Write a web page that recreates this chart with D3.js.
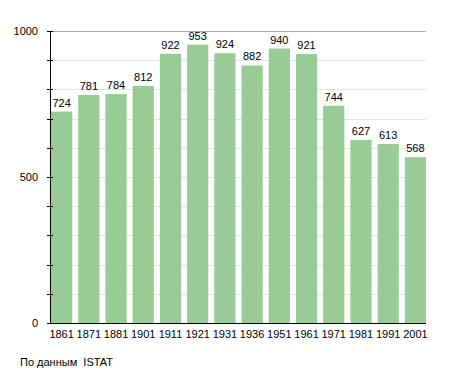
<!DOCTYPE html>
<html>
<head>
<meta charset="utf-8">
<script src="https://cdn.jsdelivr.net/npm/d3@7"></script>
<style>
  body { margin: 0; background: #fff; }
  svg { display: block; }
</style>
</head>
<body>
<div id="chart"></div>
<script>
// data
const years = ["1861", "1871", "1881", "1901", "1911", "1921", "1931", "1936", "1951", "1961", "1971", "1981", "1991", "2001"];
const population = [724, 781, 784, 812, 922, 953, 924, 882, 940, 921, 744, 627, 613, 568];
const yLabels = [0, 500, 1000];
const sourceText = "По данным  ISTAT";

const W = 455, H = 373;
const margin = { top: 31, right: 29, bottom: 50, left: 50 };
const width = W - margin.left - margin.right;
const height = H - margin.top - margin.bottom;
const font = "'Liberation Sans', Arial, sans-serif";

const svg = d3.select("#chart").append("svg")
    .attr("width", W)
    .attr("height", H);

const g = svg.append("g")
    .attr("transform", `translate(${margin.left}, ${margin.top})`);

const x = d3.scaleBand()
    .domain(years)
    .range([1, width])
    .paddingInner(0.22)
    .paddingOuter(0);

const y = d3.scaleLinear()
    .domain([0, 1000])
    .range([height, 0]);

// gridlines every 100
const gridVals = d3.range(100, 1001, 100);
g.selectAll(".grid")
    .data(gridVals)
    .enter()
    .append("line")
    .attr("x1", 0)
    .attr("x2", width)
    .attr("y1", d => Math.round(y(d)) + 0.5)
    .attr("y2", d => Math.round(y(d)) + 0.5)
    .attr("stroke", d => d === 1000 ? "#aaa" : "#e4e4e4")
    .attr("stroke-width", 1);

// bars
g.selectAll(".bar")
    .data(population)
    .enter()
    .append("rect")
    .attr("x", (d, i) => x(years[i]))
    .attr("width", x.bandwidth())
    .attr("y", d => y(d))
    .attr("height", d => height - y(d))
    .attr("fill", "#99cc95");

// value labels
g.selectAll(".val")
    .data(population)
    .enter()
    .append("text")
    .attr("x", (d, i) => x(years[i]) + x.bandwidth() / 2)
    .attr("y", d => y(d) - 5)
    .attr("text-anchor", "middle")
    .style("font-family", font)
    .style("font-size", "11px")
    .style("fill", "#000")
    .text(d => d);

// left axis: line, ticks every 100, labels at 0/500/1000
g.append("line")
    .attr("x1", 0.5).attr("x2", 0.5)
    .attr("y1", 0).attr("y2", height)
    .attr("stroke", "#000");

g.selectAll(".tick")
    .data(d3.range(0, 1001, 100))
    .enter()
    .append("line")
    .attr("x1", -3).attr("x2", 3)
    .attr("y1", d => Math.round(y(d)) + 0.5)
    .attr("y2", d => Math.round(y(d)) + 0.5)
    .attr("stroke", "#000");

g.selectAll(".ylab")
    .data(yLabels)
    .enter()
    .append("text")
    .attr("x", -12)
    .attr("y", d => y(d) + 4)
    .attr("text-anchor", "end")
    .style("font-family", font)
    .style("font-size", "11px")
    .text(d => d);

// bottom axis line and year labels
g.append("line")
    .attr("x1", 0).attr("x2", width)
    .attr("y1", height + 0.5).attr("y2", height + 0.5)
    .attr("stroke", "#000");

g.selectAll(".xlab")
    .data(years)
    .enter()
    .append("text")
    .attr("x", d => x(d) + x.bandwidth() / 2)
    .attr("y", height + 15)
    .attr("text-anchor", "middle")
    .style("font-family", font)
    .style("font-size", "11px")
    .text(d => d);

svg.append("text")
    .attr("x", 20)
    .attr("y", 366)
    .style("font-family", font)
    .style("font-size", "11px")
    .style("white-space", "pre")
    .text(sourceText);
</script>
</body>
</html>
